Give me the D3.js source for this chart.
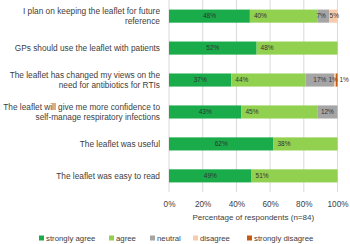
<!DOCTYPE html>
<html lang="en">
<head>
<meta charset="UTF-8"/>
<title>Leaflet survey</title>
<script src="https://d3js.org/d3.v7.min.js"></script>
<style>
  body { margin: 0; background: #fff; }
  text { font-family: "Liberation Sans", Arial, sans-serif; fill: #404040; }
</style>
</head>
<body>
<script>
var categories = [
  ["I plan on keeping the leaflet for future", "reference"],
  ["GPs should use the leaflet with patients"],
  ["The leaflet has changed my views on the", "need for antibiotics for RTIs"],
  ["The leaflet will give me more confidence to", "self-manage respiratory infections"],
  ["The leaflet was useful"],
  ["The leaflet was easy to read"]
];
var seriesNames = ["strongly agree", "agree", "neutral", "disagree", "strongly disagree"];
var stronglyAgree = [48, 52, 37, 43, 62, 49];
var agree = [40, 48, 44, 45, 38, 51];
var neutral = [7, 0, 17, 12, 0, 0];
var disagree = [5, 0, 1, 0, 0, 0];
var stronglyDisagree = [0, 0, 1, 0, 0, 0];
var ticks = [0, 20, 40, 60, 80, 100];
var colors = ["#1aab4b", "#92d050", "#a5a5a5", "#f8cbad", "#c55a11"];

var w = 350, h = 244;
var series = [stronglyAgree, agree, neutral, disagree, stronglyDisagree];

var svg = d3.select("body").append("svg").attr("width", w).attr("height", h);

var x = d3.scaleLinear().domain([0, 100]).range([169, 337.5]);
var y = d3.scaleBand().domain(d3.range(categories.length)).range([0, 192]).paddingInner(0.59).paddingOuter(0.3);

// gridlines
svg.append("g").selectAll("line").data(ticks).enter().append("line")
  .attr("x1", function(d) { return x(d); }).attr("x2", function(d) { return x(d); })
  .attr("y1", 0).attr("y2", 192)
  .attr("stroke", "#d9d9d9").attr("stroke-width", 1);

// stacked bars
var rows = svg.append("g").selectAll("g").data(categories).enter().append("g");
rows.each(function(c, i) {
  var g = d3.select(this);
  var acc = 0;
  series.forEach(function(s, k) {
    var v = s[i];
    var x0 = acc;
    acc += v;
    if (v <= 0) return;
    g.append("rect")
      .attr("x", x(x0)).attr("y", y(i))
      .attr("width", x(x0 + v) - x(x0)).attr("height", y.bandwidth())
      .attr("fill", colors[k]);
    var tx, anchor = "middle";
    if (k === 1) { tx = x(x0) + 4; anchor = "start"; }
    else if (k === 4) { tx = x(x0 + v) + 2; anchor = "start"; }
    else { tx = (x(x0) + x(x0 + v)) / 2; }
    if (k === 3 && i === 2) { tx = x(x0) - 1; }
    if (k === 2 && i === 0) { tx -= 2; }
    if (k === 3 && i === 0) { tx += 1; }
    g.append("text")
      .attr("x", tx).attr("y", y(i) + y.bandwidth() / 2)
      .attr("dy", "0.35em").attr("text-anchor", anchor)
      .style("font-size", "6.5px").style("fill", "#333")
      .text(v + "%");
  });
});

// category labels
svg.append("g").selectAll("text").data(categories).enter().append("text")
  .attr("text-anchor", "end")
  .attr("x", 160)
  .attr("y", function(d, i) { return y(i) + y.bandwidth() / 2; })
  .style("font-size", "8.3px")
  .each(function(d) {
    var t = d3.select(this);
    d.forEach(function(line, j) {
      t.append("tspan").attr("x", 160)
        .attr("dy", j === 0 ? (d.length === 1 ? "0.35em" : "-0.25em") : "1.25em")
        .text(line);
    });
  });

// x axis labels
var xAxis = svg.append("g").attr("transform", "translate(0,198)")
  .call(d3.axisBottom(x).tickValues(ticks).tickSize(0).tickFormat(function(d) { return d + "%"; }));
xAxis.select(".domain").remove();
xAxis.selectAll("text").style("font-size", "8.2px").style("font-family", "Liberation Sans, Arial, sans-serif").attr("fill", "#404040");

svg.append("text").attr("x", x(50)).attr("y", 217).attr("dy", "0.35em")
  .attr("text-anchor", "middle").style("font-size", "8px")
  .text("Percentage of respondents (n=84)");

// legend
var legendX = [39, 109, 150, 193, 247];
var leg = svg.append("g").selectAll("g").data(seriesNames).enter().append("g")
  .attr("transform", function(d, i) { return "translate(" + legendX[i] + ",238)"; });
leg.append("rect").attr("x", 0).attr("y", -2.5).attr("width", 5).attr("height", 5)
  .attr("fill", function(d, i) { return colors[i]; });
leg.append("text").attr("x", 7).attr("y", 0).attr("dy", "0.35em")
  .style("font-size", "7.8px").text(function(d) { return d; });
</script>
</body>
</html>
